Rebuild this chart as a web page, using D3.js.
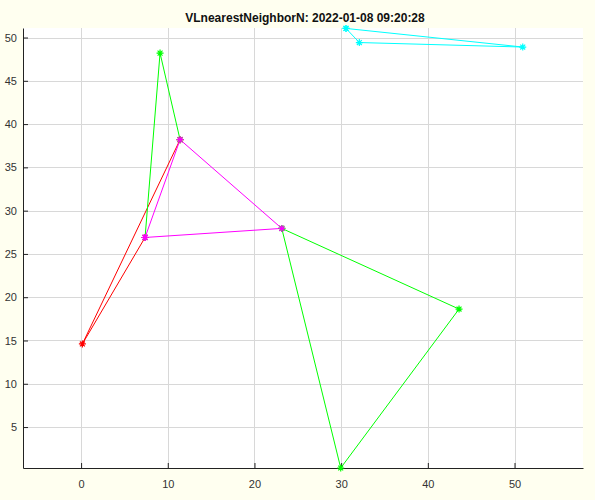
<!DOCTYPE html>
<html>
<head>
<meta charset="utf-8">
<script src="https://cdn.jsdelivr.net/npm/d3@7"></script>
<style>
  body { margin: 0; background: #fffff0; }
  svg { display: block; }
</style>
</head>
<body>
<div id="chart"></div>
<script>
// points as [x, y]
var redPath     = [[7.38, 26.9], [0.15, 14.6], [11.42, 38.2]];
var magentaPath = [[7.38, 26.9], [11.42, 38.2], [23.15, 27.95], [7.38, 26.9]];
var greenPathA  = [[7.38, 26.9], [9.11, 48.2], [11.42, 38.2]];
var greenPathB  = [[23.15, 27.95], [43.6, 18.63], [29.95, 0.27], [23.15, 27.95]];
var cyanPath    = [[30.56, 51.05], [32.1, 49.42], [50.95, 48.9], [30.56, 51.05]];
var xTicks = [0, 10, 20, 30, 40, 50];
var yTicks = [5, 10, 15, 20, 25, 30, 35, 40, 45, 50];
var title = "VLnearestNeighborN: 2022-01-08 09:20:28";

var series = [
  { pts: redPath, color: "#ff0000" },
  { pts: greenPathA, color: "#00ff00" },
  { pts: greenPathB, color: "#00ff00" },
  { pts: magentaPath, color: "#ff00ff" },
  { pts: cyanPath, color: "#00ffff" }
];

var W = 595, H = 500;
var margin = { top: 28, right: 12, bottom: 32, left: 23 };
var width = W - margin.left - margin.right,
    height = H - margin.top - margin.bottom;

var svg = d3.select("#chart").append("svg")
    .attr("width", W).attr("height", H);

var g = svg.append("g")
    .attr("transform", "translate(" + margin.left + "," + margin.top + ")");

var x = d3.scaleLinear().domain([-6.7, 57.9]).range([0, width]);
var y = d3.scaleLinear().domain([0.27, 51.1]).range([height, 0]);

g.append("rect").attr("width", width).attr("height", height).attr("fill", "white");

// grid
g.selectAll(".gx").data(xTicks).enter().append("line")
  .attr("x1", function(d) { return Math.round(x(d)) + 0.5; })
  .attr("x2", function(d) { return Math.round(x(d)) + 0.5; })
  .attr("y1", 0).attr("y2", height)
  .attr("stroke", "#d8d8d8");
g.selectAll(".gy").data(yTicks).enter().append("line")
  .attr("y1", function(d) { return Math.round(y(d)) + 0.5; })
  .attr("y2", function(d) { return Math.round(y(d)) + 0.5; })
  .attr("x1", 0).attr("x2", width)
  .attr("stroke", "#d8d8d8");

// axes, ticks pointing inward
var xAxis = g.append("g").attr("transform", "translate(0," + height + ")")
  .call(d3.axisBottom(x).tickValues(xTicks).tickSizeInner(-5).tickSizeOuter(0).tickPadding(12));
var yAxis = g.append("g")
  .call(d3.axisLeft(y).tickValues(yTicks).tickSizeInner(-5).tickSizeOuter(0).tickPadding(6));
[xAxis, yAxis].forEach(function(a) {
  a.select(".domain").attr("stroke", "#222");
  a.selectAll(".tick line").attr("stroke", "#222");
  a.selectAll("text").attr("fill", "#333")
    .style("font-family", "Liberation Sans, Arial, sans-serif").style("font-size", "11px");
});

var line = d3.line().x(function(d) { return x(d[0]); }).y(function(d) { return y(d[1]); });

series.forEach(function(s) {
  g.append("path").datum(s.pts)
    .attr("d", line)
    .attr("fill", "none")
    .attr("stroke", s.color)
    .attr("stroke-width", 1);
});

// asterisk markers
var r = 3.5;
series.forEach(function(s) {
  g.selectAll(null).data(s.pts).enter().append("path")
    .attr("transform", function(d) { return "translate(" + x(d[0]) + "," + y(d[1]) + ")"; })
    .attr("d", "M" + (-r) + ",0H" + r + "M0," + (-r) + "V" + r +
               "M" + (-r * 0.7) + "," + (-r * 0.7) + "L" + (r * 0.7) + "," + (r * 0.7) +
               "M" + (-r * 0.7) + "," + (r * 0.7) + "L" + (r * 0.7) + "," + (-r * 0.7))
    .attr("stroke", s.color)
    .attr("stroke-width", 1.2)
    .attr("fill", "none");
});

svg.append("text")
  .attr("x", margin.left + width / 2 + 2)
  .attr("y", 22)
  .attr("text-anchor", "middle")
  .style("font-family", "Liberation Sans, Arial, sans-serif")
  .style("font-size", "12px")
  .style("font-weight", "bold")
  .attr("fill", "#111")
  .text(title);
</script>
</body>
</html>
